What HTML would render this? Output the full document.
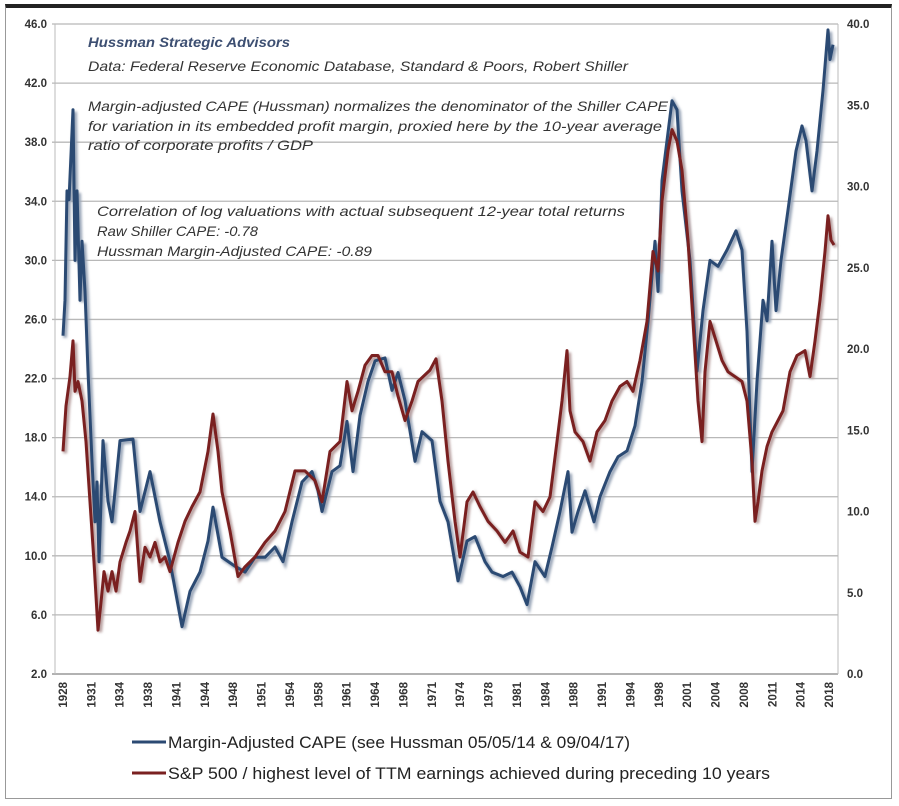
<!DOCTYPE html>
<html><head><meta charset="utf-8">
<style>
body{margin:0;background:#fff;width:899px;height:806px;overflow:hidden;font-family:"Liberation Sans",sans-serif}
#frame{position:absolute;left:5px;top:4px;width:887px;height:795px;border:1px solid #999;border-top:4px solid #222;box-sizing:border-box}
svg{position:absolute;left:0;top:0}
.ann{font-style:italic;font-size:14px;fill:#333}
.tick{font-size:11.5px;font-weight:bold;fill:#333}
.leg{font-family:"Liberation Sans",sans-serif;font-size:16.5px;fill:#222}
</style></head><body>
<div id="frame"></div>
<svg id="chart" width="899" height="806">
<defs><filter id="sh" x="-5%" y="-5%" width="110%" height="110%"><feGaussianBlur stdDeviation="1.2"/></filter></defs>
<g id="grid"></g>
<g id="leftTicks"></g>
<g id="rightTicks"></g>
<g id="xTicks"></g>
<g id="series"></g>
<g>
<text class="ann" x="88" y="47" textLength="202" lengthAdjust="spacingAndGlyphs" style="font-weight:bold;fill:#3d4f72">Hussman Strategic Advisors</text>
<text class="ann" x="88" y="71" textLength="540" lengthAdjust="spacingAndGlyphs">Data: Federal Reserve Economic Database, Standard &amp; Poors, Robert Shiller</text>
<text class="ann" x="88" y="111" textLength="580" lengthAdjust="spacingAndGlyphs">Margin-adjusted CAPE (Hussman) normalizes the denominator of the Shiller CAPE</text>
<text class="ann" x="88" y="131" textLength="574" lengthAdjust="spacingAndGlyphs">for variation in its embedded profit margin, proxied here by the 10-year average</text>
<text class="ann" x="88" y="150" textLength="225" lengthAdjust="spacingAndGlyphs">ratio of corporate profits / GDP</text>
<text class="ann" x="97" y="216" textLength="528" lengthAdjust="spacingAndGlyphs">Correlation of log valuations with actual subsequent 12-year total returns</text>
<text class="ann" x="97" y="236" textLength="161" lengthAdjust="spacingAndGlyphs">Raw Shiller CAPE: -0.78</text>
<text class="ann" x="97" y="256" textLength="275" lengthAdjust="spacingAndGlyphs">Hussman Margin-Adjusted CAPE: -0.89</text>
</g>
<g>
<line x1="132" y1="742" x2="166" y2="742" stroke="#2b4a73" stroke-width="3"/>
<text class="leg" x="168" y="748" textLength="462" lengthAdjust="spacingAndGlyphs">Margin-Adjusted CAPE (see Hussman 05/05/14 &amp; 09/04/17)</text>
<line x1="132" y1="773" x2="166" y2="773" stroke="#7a2020" stroke-width="3"/>
<text class="leg" x="168" y="779" textLength="602" lengthAdjust="spacingAndGlyphs">S&amp;P 500 / highest level of TTM earnings achieved during preceding 10 years</text>
</g>
</svg>
<script>
const leftTickVals=[2,6,10,14,18,22,26,30,34,38,42,46];
const rightTickVals=[0,5,10,15,20,25,30,35,40];
const yearLabels=["1928","1931","1934","1938","1941","1944","1948","1951","1954","1958","1961","1964","1968","1971","1974","1978","1981","1984","1988","1991","1994","1998","2001","2004","2008","2011","2014","2018"];
const blueYears=[1928.00,1928.23,1928.47,1928.70,1929.18,1929.41,1929.65,1930.00,1930.23,1930.59,1930.94,1931.41,1931.76,1932.00,1932.23,1932.70,1933.29,1933.76,1934.70,1936.23,1937.05,1938.22,1939.40,1940.57,1941.98,1942.92,1944.10,1945.04,1945.63,1946.68,1948.21,1949.39,1950.56,1951.74,1952.91,1953.85,1954.91,1956.08,1957.26,1957.96,1958.43,1959.61,1960.55,1961.37,1962.08,1962.90,1963.84,1964.67,1965.84,1966.66,1967.37,1968.19,1969.36,1970.19,1971.36,1972.30,1973.24,1974.42,1975.47,1976.41,1977.59,1978.41,1979.70,1980.76,1981.70,1982.52,1983.46,1984.63,1985.46,1986.40,1987.34,1987.81,1988.52,1989.34,1990.40,1991.10,1992.28,1993.22,1994.28,1995.22,1996.04,1996.75,1997.57,1997.92,1998.39,1999.56,2000.15,2000.74,2001.68,2002.50,2003.21,2004.03,2004.97,2006.03,2007.08,2007.79,2008.38,2008.96,2009.55,2010.26,2010.73,2011.31,2011.78,2012.37,2013.19,2014.13,2014.84,2015.31,2016.01,2016.60,2017.31,2017.89,2018.13,2018.48];
const blueValues=[24.9,27.3,34.7,34.1,40.2,30.0,34.7,27.3,31.3,27.9,22.5,16.4,12.3,15.0,9.6,17.8,13.7,12.3,17.8,17.9,13.0,15.7,12.3,9.6,5.2,7.6,8.9,11.0,13.3,9.9,9.3,8.9,9.9,9.9,10.6,9.6,12.3,15.0,15.7,14.4,13.0,15.7,16.1,19.1,15.7,19.5,21.8,23.2,23.4,21.2,22.4,20.5,16.4,18.4,17.8,13.7,12.3,8.3,11.0,11.3,9.6,8.9,8.6,8.9,7.9,6.7,9.6,8.6,10.6,13.0,15.7,11.6,13.0,14.4,12.3,14.0,15.7,16.7,17.1,18.8,21.8,25.9,31.3,27.9,35.4,40.8,40.2,34.7,30.0,22.5,26.6,30.0,29.6,30.7,32.0,30.7,25.2,15.7,21.8,27.3,25.9,31.3,26.6,30.0,33.4,37.4,39.1,38.1,34.7,37.4,41.5,45.6,43.6,44.6];
const redYears=[1928.00,1928.35,1928.82,1929.18,1929.41,1929.76,1930.23,1930.70,1931.17,1931.64,1932.11,1932.47,1932.82,1933.29,1933.76,1934.23,1934.70,1935.40,1935.87,1936.46,1937.05,1937.64,1938.22,1938.81,1939.40,1939.99,1940.57,1941.51,1942.34,1943.16,1944.10,1945.04,1945.63,1946.21,1946.68,1947.62,1948.56,1949.39,1950.56,1951.74,1952.91,1954.09,1955.26,1956.44,1957.61,1958.43,1959.37,1960.55,1961.37,1961.96,1962.66,1963.49,1964.31,1965.02,1965.84,1966.66,1967.37,1968.19,1969.01,1969.72,1971.13,1971.83,1972.54,1973.24,1974.06,1974.65,1975.47,1976.18,1977.00,1977.94,1979.00,1979.94,1980.88,1981.70,1982.64,1983.46,1984.40,1985.23,1986.05,1986.64,1987.23,1987.58,1988.17,1989.10,1989.93,1990.75,1991.69,1992.51,1993.45,1994.28,1994.98,1995.80,1996.63,1997.33,1997.92,1998.39,1999.09,1999.56,2000.15,2000.74,2001.44,2002.03,2002.62,2003.09,2003.44,2004.03,2004.73,2005.44,2006.14,2006.97,2007.79,2008.38,2008.96,2009.32,2009.67,2010.14,2010.73,2011.31,2012.02,2012.61,2013.43,2014.25,2015.19,2015.78,2016.37,2016.95,2017.54,2017.89,2018.25,2018.60];
const redValues=[13.7,16.5,18.3,20.5,17.4,18.0,16.8,14.3,10.6,6.9,2.7,4.4,6.3,5.1,6.3,5.1,6.9,8.1,8.8,10.0,5.7,7.8,7.2,8.1,6.9,7.2,6.3,8.1,9.4,10.3,11.2,13.7,16.0,13.7,11.2,8.8,6.0,6.6,7.2,8.1,8.8,10.0,12.5,12.5,11.9,10.6,13.7,14.3,18.0,16.2,17.4,19.0,19.6,19.6,18.6,18.6,17.1,15.6,16.8,18.0,18.7,19.4,16.8,13.1,9.4,7.2,10.6,11.2,10.3,9.4,8.8,8.1,8.8,7.5,7.2,10.6,10.0,10.9,14.3,16.8,19.9,16.2,14.9,14.3,13.1,14.9,15.6,16.8,17.7,18.0,17.4,19.3,21.7,26.0,24.8,29.1,32.2,33.5,32.8,31.0,26.7,21.7,16.8,14.3,18.6,21.7,20.5,19.3,18.6,18.3,18.0,16.8,13.1,9.4,10.6,12.5,14.0,14.9,15.6,16.2,18.6,19.6,19.9,18.3,20.5,23.0,26.0,28.2,26.7,26.4];

const X0=55,X1=838,Y0=24,Y1=674;
const xScale=y=>63+(y-1928)*8.51;
const yLeft=v=>Y1-(v-2)/44*(Y1-Y0);
const yRight=v=>Y1-v/40*(Y1-Y0);
const NS="http://www.w3.org/2000/svg";
function mk(t,a,p){const e=document.createElementNS(NS,t);for(const k in a)e.setAttribute(k,a[k]);p.appendChild(e);return e;}
const grid=document.getElementById('grid'),lt=document.getElementById('leftTicks'),rt=document.getElementById('rightTicks'),xt=document.getElementById('xTicks'),ser=document.getElementById('series');
leftTickVals.forEach(v=>{
  const y=yLeft(v);
  const g=mk('line',{x1:X0-3,x2:X1,y1:y,y2:y,stroke:v===2?'#999':'#b8b8b8','stroke-width':v===2?1.5:1.3},grid);
  
  
  const t=mk('text',{x:47,y:y+4,'text-anchor':'end',class:'tick'},lt);
  t.textContent=v.toFixed(1);
  
  
});
rightTickVals.forEach(v=>{
  const y=yRight(v);
  const t=mk('text',{x:847,y:y+4,class:'tick'},rt);
  t.textContent=v.toFixed(1);
  
  
});
mk('line',{x1:X0,x2:X0,y1:Y0,y2:Y1,stroke:'#bbb','stroke-width':1},grid);
mk('line',{x1:X1,x2:X1,y1:Y0,y2:Y1,stroke:'#bbb','stroke-width':1},grid);
yearLabels.forEach((lab,i)=>{
  const x=63+i*28.37;
  const t=mk('text',{x:0,y:0,class:'tick','text-anchor':'end',transform:`translate(${x+4},${Y1+8}) rotate(-90)`},xt);
  t.textContent=lab;
  
  
});
function path(xs,vs,yf){return xs.map((yr,i)=>(i?'L':'M')+xScale(yr).toFixed(1)+','+yf(vs[i]).toFixed(1)).join('');}
const bd=path(blueYears,blueValues,yLeft), rd=path(redYears,redValues,yRight);
mk('path',{d:bd,fill:'none',stroke:'#9aa6b8','stroke-width':4,filter:'url(#sh)',transform:'translate(2,2)'},ser);
mk('path',{d:rd,fill:'none',stroke:'#b8a0a0','stroke-width':4,filter:'url(#sh)',transform:'translate(2,2)'},ser);
const bl=mk('path',{d:bd,fill:'none',stroke:'#2b4a73','stroke-width':3,'stroke-linejoin':'round'},ser);


const rl=mk('path',{d:rd,fill:'none',stroke:'#7a2020','stroke-width':3,'stroke-linejoin':'round'},ser);


</script>
</body></html>
